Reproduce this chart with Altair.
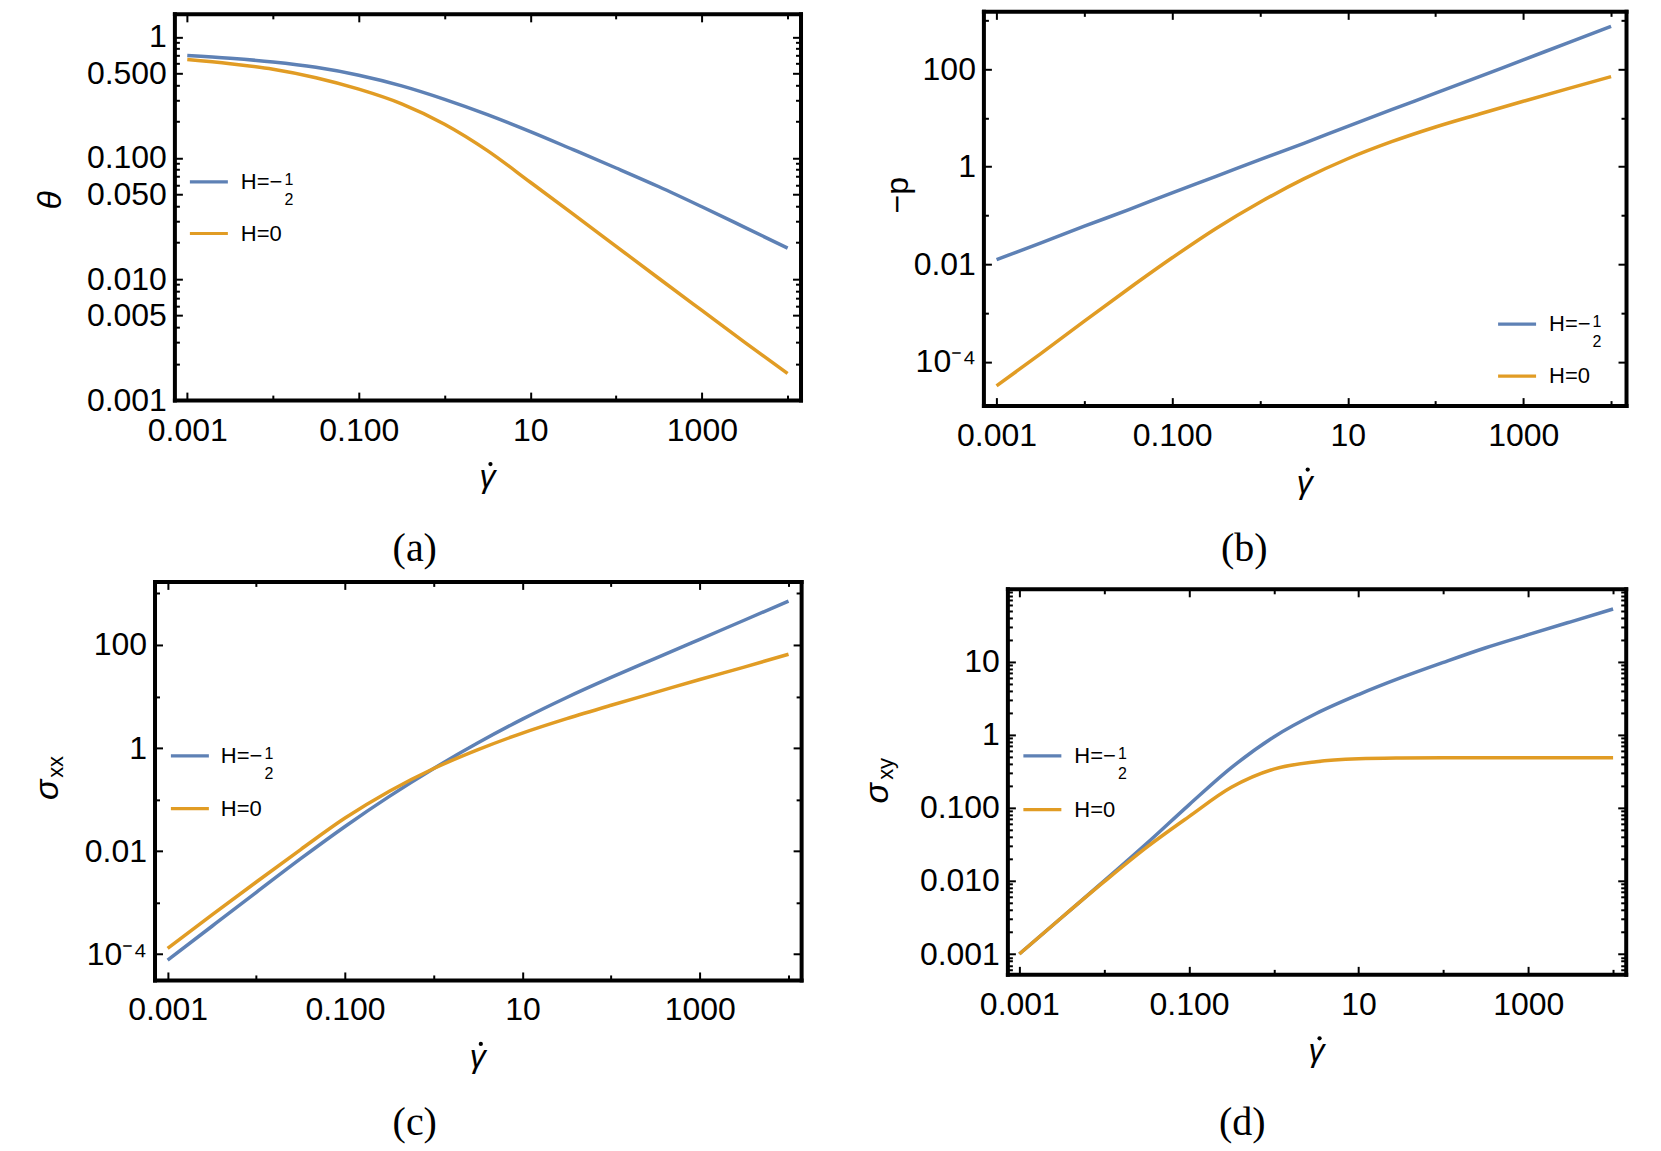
import altair as alt
import pandas as pd

# ---------------- data ----------------
GAMMA = [0.001, 0.00316, 0.01, 0.0316, 0.1, 0.316, 1, 3.16, 10, 31.6, 100, 316, 1000, 3162, 10000]
SERIES = ["H=-1/2", "H=0"]

THETA_BLUE = [0.70, 0.665, 0.62, 0.56, 0.482, 0.394, 0.305, 0.228, 0.165, 0.117, 0.0826, 0.0578, 0.0395, 0.0267, 0.0180]
THETA_ORANGE = [0.65, 0.60, 0.54, 0.46, 0.37, 0.28, 0.19, 0.115, 0.063, 0.0343, 0.0186, 0.0101, 0.0055, 0.0030, 0.00166]

P_BLUE = [0.0124, 0.027, 0.060, 0.13, 0.29, 0.63, 1.39, 3.0, 6.7, 14.7, 32, 70, 155, 340, 753]
P_ORANGE = [3.2e-5, 1.45e-4, 6.8e-4, 3.1e-3, 0.0135, 0.054, 0.186, 0.56, 1.45, 3.24, 6.5, 12.0, 21.9, 39.4, 70]

SXX_BLUE = [7.6e-5, 3.47e-4, 1.58e-3, 7.1e-3, 0.030, 0.115, 0.40, 1.26, 3.63, 9.55, 23.4, 55, 129, 302, 708]
SXX_ORANGE = [1.29e-4, 5.75e-4, 2.51e-3, 0.0107, 0.0437, 0.145, 0.40, 0.93, 1.95, 3.72, 6.76, 12.0, 21.4, 37.2, 66]

SXY_BLUE = [0.001, 0.00316, 0.01, 0.0324, 0.110, 0.355, 0.933, 1.95, 3.55, 6.03, 9.77, 15.5, 23.4, 35.1, 52.5]
SXY_ORANGE = [0.001, 0.00316, 0.00977, 0.0288, 0.0759, 0.191, 0.339, 0.427, 0.468, 0.481, 0.485, 0.485, 0.485, 0.485, 0.485]

# tick values / labels
X_LAB = [0.001, 0.1, 10, 1000]
X_LAB_TXT = ["0.001", "0.100", "10", "1000"]
X_MINOR = [0.01, 1, 100, 10000]

A_Y_LAB = [0.001, 0.005, 0.01, 0.05, 0.1, 0.5, 1]
A_Y_TXT = ["0.001", "0.005", "0.010", "0.050", "0.100", "0.500", "1"]
A_Y_MINOR = [0.002, 0.003, 0.004, 0.006, 0.007, 0.008, 0.009,
             0.02, 0.03, 0.04, 0.06, 0.07, 0.08, 0.09,
             0.2, 0.3, 0.4, 0.6, 0.7, 0.8, 0.9]

BC_Y_LAB = [1e-4, 0.01, 1, 100]
BC_Y_TXT = ["10\u207b\u2074", "0.01", "1", "100"]
BC_Y_MINOR = [0.001, 0.1, 10, 1000]

D_Y_LAB = [0.001, 0.01, 0.1, 1, 10]
D_Y_TXT = ["0.001", "0.010", "0.100", "1", "10"]
D_Y_MINOR = [0.0006, 0.0007, 0.0008, 0.0009,
             0.002, 0.003, 0.004, 0.005, 0.006, 0.007, 0.008, 0.009,
             0.02, 0.03, 0.04, 0.05, 0.06, 0.07, 0.08, 0.09,
             0.2, 0.3, 0.4, 0.5, 0.6, 0.7, 0.8, 0.9,
             2, 3, 4, 5, 6, 7, 8, 9,
             20, 30, 40, 50, 60, 70, 80, 90]

# ---------------- styling ----------------
BLUE = "#5E81B5"
ORANGE = "#E19C24"
W, H = 822, 566
TICK_FONT = "Liberation Sans"
TICK_SIZE = 32
FRAME_W = 4
MAJ, MIN = 8, 5
TITLE_FONT = "Liberation Sans"
PANEL_FONT = "Liberation Serif"


def lab_expr(vals, labs):
    parts = [f"abs(datum.value / {v!r} - 1) < 0.001 ? '{t}'" for v, t in zip(vals, labs)]
    return " : ".join(parts) + " : ''"


def make_df(ya, yb):
    return pd.DataFrame({
        "x": GAMMA + GAMMA,
        "y": ya + yb,
        "series": [SERIES[0]] * len(GAMMA) + [SERIES[1]] * len(GAMMA),
    })


def text_layer(txt, x, y, size, font, style="normal", angle=0, align="center", baseline="middle"):
    kw = dict(font=font, fontSize=size, align=align, baseline=baseline, color="black")
    if style != "normal":
        kw["fontStyle"] = style
    if angle:
        kw["angle"] = angle
    return alt.Chart(pd.DataFrame({"t": [txt]})).mark_text(**kw).encode(
        text="t:N", x=alt.value(x), y=alt.value(y))


def dot_layer(x, y, size):
    return alt.Chart(pd.DataFrame({"k": [0]})).mark_circle(color="black", opacity=1, size=size).encode(
        x=alt.value(x), y=alt.value(y))


def rule_layer(x1, x2, y, color):
    return alt.Chart(pd.DataFrame({"k": [0]})).mark_rule(color=color, strokeWidth=3.2).encode(
        x=alt.value(x1), x2=alt.value(x2), y=alt.value(y))


def legend_layers(x1, x2, yb, yo, tx):
    return [
        rule_layer(x1, x2, yb, BLUE),
        rule_layer(x1, x2, yo, ORANGE),
        text_layer("H=\u2212", tx, yb, 22, TICK_FONT, align="left"),
        text_layer("1", tx + 48, yb - 2, 16, TICK_FONT),
        text_layer("2", tx + 48, yb + 18, 16, TICK_FONT),
        text_layer("H=0", tx, yo, 22, TICK_FONT, align="left"),
    ]


BASE_AX = dict(grid=False, title=None, minExtent=0, zindex=1)


def frame_axis(orient, offset, values=None, expr=None, pad=0):
    if values is not None:
        return alt.Axis(orient=orient, offset=offset, domain=True, domainColor="black",
                        domainWidth=FRAME_W, domainCap="square", ticks=False, labels=True,
                        values=values, labelExpr=expr, labelFont=TICK_FONT,
                        labelFontSize=TICK_SIZE, labelColor="black", labelPadding=pad,
                        labelFlush=False, labelOverlap=False, **BASE_AX)
    return alt.Axis(orient=orient, offset=offset, domain=True, domainColor="black",
                    domainWidth=FRAME_W, domainCap="square", ticks=False, labels=False, **BASE_AX)


def tick_axis(orient, offset, values, size):
    return alt.Axis(orient=orient, offset=offset, domain=False, labels=False, ticks=True,
                    values=values, tickSize=size, tickWidth=2, tickColor="black", **BASE_AX)


def panel(ya, yb, geom, xexp, yexp, ylab, ylabtxt, yminor, extras):
    L, R, T, B = geom
    df = make_df(ya, yb)
    xs = alt.Scale(type="log", domain=[10 ** xexp[0], 10 ** xexp[1]], range=[L, R], nice=False)
    ys = alt.Scale(type="log", domain=[10 ** yexp[0], 10 ** yexp[1]], range=[B, T], nice=False)

    lines = alt.Chart(df).mark_line(strokeWidth=3.5, interpolate="monotone").encode(
        x=alt.X("x:Q", scale=xs, axis=frame_axis("bottom", B - H, X_LAB, lab_expr(X_LAB, X_LAB_TXT), 15)),
        y=alt.Y("y:Q", scale=ys, axis=frame_axis("left", -L, ylab, lab_expr(ylab, ylabtxt), 8)),
        color=alt.Color("series:N", scale=alt.Scale(domain=SERIES, range=[BLUE, ORANGE]), legend=None),
    )

    def carrier(xa, yax):
        return alt.Chart(df).mark_line(opacity=0).encode(
            x=alt.X("x:Q", scale=xs, axis=xa), y=alt.Y("y:Q", scale=ys, axis=yax))

    layers = [
        lines,
        carrier(frame_axis("top", -T), frame_axis("right", R - W)),
        carrier(tick_axis("bottom", B - H - MAJ, X_LAB, MAJ), tick_axis("left", -(L + MAJ), ylab, MAJ)),
        carrier(tick_axis("top", -(T + MAJ), X_LAB, MAJ), tick_axis("right", R - W - MAJ, ylab, MAJ)),
        carrier(tick_axis("bottom", B - H - MIN, X_MINOR, MIN), tick_axis("left", -(L + MIN), yminor, MIN)),
        carrier(tick_axis("top", -(T + MIN), X_MINOR, MIN), tick_axis("right", R - W - MIN, yminor, MIN)),
    ]
    gx = (L + R) / 2
    # x-axis title: italic gamma with a dot above
    layers.append(text_layer("\u03b3", gx, B + 87, 32, TITLE_FONT, style="italic", baseline="alphabetic"))
    layers.append(dot_layer(gx + 3, B + 64, 18))
    layers += extras
    return alt.layer(*layers).resolve_axis(x="independent", y="independent").properties(width=W, height=H)


pa = panel(THETA_BLUE, THETA_ORANGE, (165.5, 792, 4.5, 391), (-3.15, 4.15), (-3.0, 0.19),
           A_Y_LAB, A_Y_TXT, A_Y_MINOR,
           [text_layer("\u03b8", 42, 191, 34, TITLE_FONT, style="italic", angle=270),
            text_layer("(a)", 406, 540, 40, PANEL_FONT)]
           + legend_layers(181, 219, 172.7, 224.3, 232))

pb = panel(P_BLUE, P_ORANGE, (153, 796, 2, 396.5), (-3.15, 4.17), (-4.9, 3.184),
           BC_Y_LAB, BC_Y_TXT, BC_Y_MINOR,
           [text_layer("\u2212p", 68, 186, 32, TITLE_FONT, angle=270),
            text_layer("(b)", 414, 540, 40, PANEL_FONT)]
           + legend_layers(668, 706, 315, 367, 719))

pc = panel(SXX_BLUE, SXX_ORANGE, (145.6, 792.6, 6.4, 405.2), (-3.148, 4.142), (-4.502, 3.234),
           BC_Y_LAB, BC_Y_TXT, BC_Y_MINOR,
           [text_layer("\u03c3", 39, 215, 34, TITLE_FONT, style="italic", angle=270),
            text_layer("xx", 47, 192, 22, TITLE_FONT, angle=270),
            text_layer("(c)", 406, 548, 40, PANEL_FONT)]
           + legend_layers(162, 200, 181, 233.7, 212))

pd_ = panel(SXY_BLUE, SXY_ORANGE, (177, 795.7, 13.8, 399.6), (-3.141, 4.149), (-3.278, 1.997),
            D_Y_LAB, D_Y_TXT, D_Y_MINOR,
            [text_layer("\u03c3", 48, 218.5, 34, TITLE_FONT, style="italic", angle=270),
             text_layer("xy", 56, 194, 22, TITLE_FONT, angle=270),
             text_layer("(d)", 412, 548, 40, PANEL_FONT)]
            + legend_layers(193, 231, 181, 234.8, 244))

chart = alt.concat(pa, pb, pc, pd_, columns=2, spacing=0, bounds="flush").properties(
    padding=0).configure_view(stroke="transparent")

chart.save("out.html", embed_options={"renderer": "svg", "actions": False})
